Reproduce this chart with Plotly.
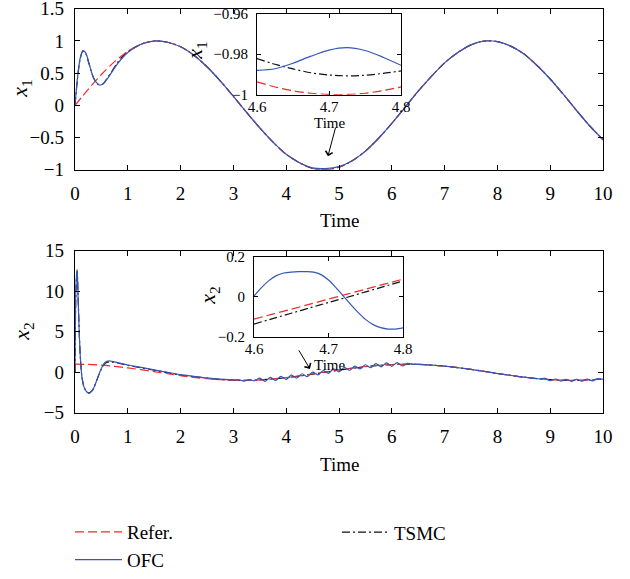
import plotly.graph_objects as go

# ---------------- data ----------------
t_ref = [i * 0.25 for i in range(41)]
x1_ref = [0.00, 0.25, 0.48, 0.68, 0.84, 0.95, 1.00, 0.98, 0.91, 0.78,
          0.60, 0.38, 0.14, -0.11, -0.35, -0.57, -0.76, -0.89, -0.98, -1.00,
          -0.96, -0.86, -0.71, -0.51, -0.28, -0.03, 0.22, 0.45, 0.66, 0.82,
          0.94, 1.00, 0.99, 0.92, 0.80, 0.62, 0.41, 0.17, -0.08, -0.32, -0.54]
x2_ref = [1.00, 0.97, 0.88, 0.73, 0.54, 0.32, 0.07, -0.18, -0.42, -0.63,
          -0.80, -0.92, -0.99, -0.99, -0.94, -0.82, -0.65, -0.45, -0.21, 0.04,
          0.28, 0.51, 0.71, 0.86, 0.96, 1.00, 0.98, 0.89, 0.75, 0.57,
          0.35, 0.11, -0.15, -0.39, -0.60, -0.78, -0.91, -0.98, -1.00, -0.95, -0.84]

t_x1_early = [0, 0.05, 0.1, 0.15, 0.2, 0.25, 0.3, 0.35, 0.4, 0.45, 0.5, 0.55,
              0.6, 0.7, 0.8, 0.9, 1.0]
x1_ofc_early = [0.0, 0.45, 0.74, 0.85, 0.82, 0.70, 0.55, 0.43, 0.36, 0.32, 0.32,
                0.35, 0.40, 0.52, 0.64, 0.74, 0.82]
x1_tsmc_early = [0.0, 0.44, 0.73, 0.84, 0.81, 0.69, 0.55, 0.43, 0.36, 0.32, 0.32,
                 0.35, 0.41, 0.53, 0.66, 0.76, 0.83]
t_x1_late = t_ref[5:]
x1_ofc_late = [0.95, 1.00, 0.98, 0.91, 0.78, 0.60, 0.38, 0.14, -0.11, -0.35,
               -0.57, -0.76, -0.89, -0.97, -0.98, -0.95, -0.86, -0.71, -0.51, -0.28,
               -0.03, 0.22, 0.45, 0.66, 0.82, 0.94, 1.00, 0.99, 0.92, 0.80,
               0.62, 0.41, 0.17, -0.08, -0.32, -0.53]
x1_tsmc_late = [0.95, 1.00, 0.98, 0.91, 0.78, 0.60, 0.38, 0.14, -0.11, -0.35,
                -0.57, -0.76, -0.89, -0.98, -0.99, -0.96, -0.86, -0.71, -0.51, -0.28,
                -0.03, 0.22, 0.45, 0.66, 0.82, 0.94, 1.00, 0.99, 0.92, 0.80,
                0.62, 0.41, 0.17, -0.08, -0.32, -0.53]

t_x2_early = [0, 0.02, 0.04, 0.06, 0.08, 0.1, 0.13, 0.17, 0.22, 0.27, 0.32, 0.35,
              0.4, 0.45, 0.5, 0.55, 0.6, 0.65, 0.7, 0.8, 0.9, 1.0, 1.25, 1.5,
              1.75, 2.0, 2.25, 2.5, 2.75, 3.0]
x2_ofc_early = [0.0, 11.0, 12.7, 9.0, 5.0, 2.0, -0.5, -1.8, -2.4, -2.6, -2.3, -2.0,
                -1.2, -0.3, 0.5, 1.1, 1.35, 1.4, 1.35, 1.2, 1.05, 0.9, 0.6, 0.3,
                0.0, -0.3, -0.5, -0.7, -0.85, -0.95]
x2_tsmc_early = [0.0, 10.5, 12.5, 9.0, 5.0, 2.0, -0.5, -1.8, -2.4, -2.55, -2.3, -2.0,
                 -1.2, -0.35, 0.4, 0.95, 1.2, 1.3, 1.25, 1.15, 1.0, 0.85, 0.55, 0.25,
                 -0.05, -0.35, -0.55, -0.72, -0.88, -0.98]
t_x2_ofc_late = [round(3.1 + 0.1 * i, 1) for i in range(70)]
x2_ofc_late = [-0.92, -1.08, -0.91, -1.05, -0.72, -1.12, -0.63, -1.01, -0.51, -0.87,
               -0.36, -0.71, -0.18, -0.53, 0.01, -0.33, 0.21, -0.13, 0.41, 0.06,
               0.60, 0.25, 0.77, 0.42, 0.93, 0.56, 1.06, 0.67, 1.15, 0.74,
               1.20, 0.78, 1.10, 0.99, 0.98, 0.95, 0.91, 0.87, 0.82, 0.75,
               0.69, 0.61, 0.53, 0.44, 0.35, 0.25, 0.16, 0.05, -0.05, -0.15,
               -0.24, -0.34, -0.43, -0.52, -0.60, -0.68, -0.75, -0.81, -0.75, -1.03,
               -0.83, -1.10, -0.87, -1.12, -0.88, -1.10, -0.84, -1.05, -0.77, -0.89]
t_x2_tsmc_late = t_ref[13:]
x2_tsmc_late = [-1.00, -0.95, -0.82, -0.67, -0.47, -0.23, 0.02, 0.26, 0.49, 0.69,
                0.85, 0.95, 0.99, 0.97, 0.89, 0.75, 0.57, 0.35, 0.11, -0.15,
                -0.39, -0.60, -0.78, -0.91, -0.98, -1.00, -0.95, -0.84]

# inset data
t_in1 = [4.6, 4.625, 4.65, 4.675, 4.7, 4.725, 4.75, 4.775, 4.8]
x1_ref_in = [-0.9937, -0.9962, -0.9981, -0.9993, -0.9999, -0.9999, -0.9993, -0.9980, -0.9962]
x1_ofc_in = [-0.9880, -0.9872, -0.9845, -0.9810, -0.9780, -0.9768, -0.9782, -0.9815, -0.9855]
x1_tsmc_in = [-0.9822, -0.9850, -0.9873, -0.9892, -0.9903, -0.9907, -0.9904, -0.9895, -0.9883]

x2_ref_in = [-0.1122, -0.0874, -0.0625, -0.0376, -0.0124, 0.0126, 0.0376, 0.0626, 0.0875]
x2_tsmc_in = [-0.137, -0.110, -0.083, -0.056, -0.029, -0.003, 0.024, 0.051, 0.078]
t_in2 = [4.6, 4.61, 4.62, 4.63, 4.64, 4.65, 4.66, 4.67, 4.68, 4.69, 4.70,
         4.71, 4.72, 4.73, 4.74, 4.75, 4.76, 4.77, 4.78, 4.79, 4.80]
x2_ofc_in = [0.003, 0.045, 0.080, 0.105, 0.118, 0.123, 0.125, 0.125, 0.123, 0.110, 0.083,
             0.045, 0.003, -0.040, -0.080, -0.115, -0.140, -0.155, -0.162, -0.162, -0.156]

# ---------------- style ----------------
RED = "#ee2a2a"
BLUE = "#3457b8"
BLACK = "#111111"
FONT = "Liberation Serif"
W, H = 630, 579

def px_x(p):
    return p / W

def px_y(p):
    return 1 - p / H

fig = go.Figure()

def add(x, y, color, dash, xa, ya, name=None, legend=None, show=False, width=1.2):
    fig.add_trace(go.Scatter(
        x=x, y=y, mode="lines", name=name,
        line=dict(color=color, dash=dash, width=width, shape="spline", smoothing=0.8),
        xaxis=xa, yaxis=ya, showlegend=show, legend=legend,
        hoverinfo="skip"))

DASH = "9px,4px"
DASHDOT = "8px,3px,2px,3px"

# top main
add(t_x1_early + t_x1_late, x1_tsmc_early + x1_tsmc_late, BLACK, DASHDOT, "x", "y")
add(t_ref, x1_ref, RED, DASH, "x", "y")
add(t_x1_early + t_x1_late, x1_ofc_early + x1_ofc_late, BLUE, "solid", "x", "y")
# bottom main
add(t_x2_early + t_x2_tsmc_late, x2_tsmc_early + x2_tsmc_late, BLACK, DASHDOT, "x2", "y2",
    name="TSMC", legend="legend2", show=True)
add(t_ref, x2_ref, RED, DASH, "x2", "y2", name="Refer.", legend="legend", show=True)
add(t_x2_early + t_x2_ofc_late, x2_ofc_early + x2_ofc_late, BLUE, "solid", "x2", "y2",
    name="OFC", legend="legend", show=True)
# insets
add(t_in1, x1_tsmc_in, BLACK, DASHDOT, "x3", "y3")
add(t_in1, x1_ref_in, RED, DASH, "x3", "y3")
add(t_in1, x1_ofc_in, BLUE, "solid", "x3", "y3")
add(t_in1, x2_tsmc_in, BLACK, DASHDOT, "x4", "y4")
add(t_in1, x2_ref_in, RED, DASH, "x4", "y4")
add(t_in2, x2_ofc_in, BLUE, "solid", "x4", "y4")

main_ax = dict(showline=True, linecolor="black", linewidth=1.4, mirror="ticks",
               ticks="inside", ticklen=5, tickcolor="black", tickwidth=1,
               showgrid=False, zeroline=False, automargin=False,
               ticklabeloverflow="allow",
               tickfont=dict(family=FONT, size=19, color="black"))
inset_ax = dict(showline=True, linecolor="black", linewidth=1.1, mirror="ticks",
                ticks="inside", ticklen=4, tickcolor="black", tickwidth=1,
                showgrid=False, zeroline=False, automargin=False,
                ticklabeloverflow="allow",
                tickfont=dict(family=FONT, size=15, color="black"))

dom_x_main = [px_x(75), px_x(603)]
fig.update_layout(
    width=W, height=H, margin=dict(l=0, r=0, t=0, b=0),
    paper_bgcolor="white", plot_bgcolor="white", template="none",
    font=dict(family=FONT, color="black"),
    xaxis=dict(main_ax, domain=dom_x_main, range=[0, 10], tickvals=list(range(11)),
               anchor="y", ticklabelstandoff=6),
    yaxis=dict(main_ax, domain=[px_y(174), px_y(9)], range=[-1, 1.5],
               tickvals=[-1, -0.5, 0, 0.5, 1, 1.5], anchor="x", ticklabelstandoff=6),
    xaxis2=dict(main_ax, domain=dom_x_main, range=[0, 10], tickvals=list(range(11)),
                anchor="y2", ticklabelstandoff=6),
    yaxis2=dict(main_ax, domain=[px_y(423), px_y(257)], range=[-5, 15],
                tickvals=[-5, 0, 5, 10, 15], anchor="x2", ticklabelstandoff=6),
    xaxis3=dict(inset_ax, domain=[px_x(257), px_x(401)], range=[4.6, 4.8],
                tickvals=[4.6, 4.7, 4.8], anchor="y3", ticklabelstandoff=-2),
    yaxis3=dict(inset_ax, domain=[px_y(97), px_y(14)], range=[-1, -0.96],
                tickvals=[-1, -0.98, -0.96], anchor="x3", ticklabelstandoff=5),
    xaxis4=dict(inset_ax, domain=[px_x(254), px_x(403)], range=[4.6, 4.8],
                tickvals=[4.6, 4.7, 4.8], anchor="y4", ticklabelstandoff=-2),
    yaxis4=dict(inset_ax, domain=[px_y(345), px_y(263)], range=[-0.2, 0.2],
                tickvals=[-0.2, 0, 0.2], ticktext=["\u22120.2", "0", "0.2"], anchor="x4",
                ticklabelstandoff=5),
    legend=dict(x=px_x(70), y=px_y(526), xanchor="left", yanchor="top",
                font=dict(family=FONT, size=19, color="black"),
                bgcolor="rgba(0,0,0,0)", tracegroupgap=0, itemwidth=47),
    legend2=dict(x=px_x(337), y=px_y(526), xanchor="left", yanchor="top",
                 font=dict(family=FONT, size=19, color="black"),
                 bgcolor="rgba(0,0,0,0)", itemwidth=47),
)

ann_font = dict(family=FONT, size=19, color="black")
ttl_font = dict(family=FONT, size=22, color="black")
in_font = dict(family=FONT, size=15, color="black")
anns = [
    dict(text="<i>x</i><sub>1</sub>", x=px_x(21), y=px_y(91), textangle=-90, font=ttl_font),
    dict(text="<i>x</i><sub>2</sub>", x=px_x(23), y=px_y(340), textangle=-90, font=ttl_font),
    dict(text="Time", x=px_x(339), y=px_y(226), font=ann_font),
    dict(text="Time", x=px_x(339), y=px_y(476), font=ann_font),
    dict(text="Time", x=px_x(329), y=px_y(126), font=in_font),
    dict(text="Time", x=px_x(329), y=px_y(374), font=in_font),
    dict(text="<i>x</i><sub>1</sub>", x=px_x(196), y=px_y(52), textangle=-90, font=ttl_font),
    dict(text="<i>x</i><sub>2</sub>", x=px_x(209), y=px_y(303), textangle=-90, font=ttl_font),
]
for a in anns:
    fig.add_annotation(xref="paper", yref="paper", showarrow=False,
                       xanchor="center", yanchor="middle", **a)

fig.add_annotation(x=4.79, y=-0.79, xref="x", yref="y", ax=8, ay=-30, text="",
                   showarrow=True, arrowhead=4, arrowsize=1.4, arrowwidth=1, arrowcolor="black")
fig.add_annotation(x=4.45, y=0.42, xref="x2", yref="y2", ax=-12, ay=-20, text="",
                   showarrow=True, arrowhead=4, arrowsize=1.4, arrowwidth=1, arrowcolor="black")

# remove the browser's default body margin so the figure sits at the page origin
fig.write_html("out.html", config={"displayModeBar": False},
               post_script="document.body.style.margin='0';")
